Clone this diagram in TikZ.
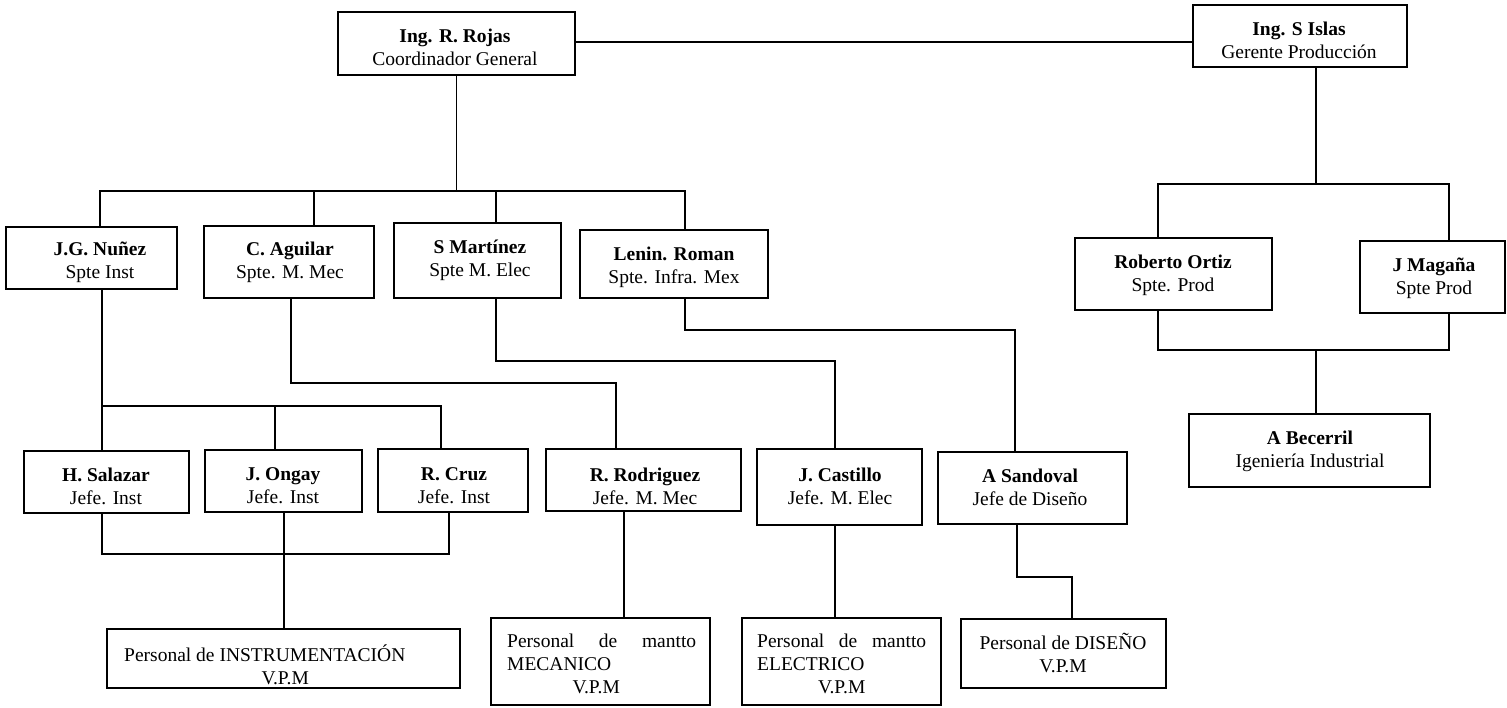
\documentclass[tikz,border=0pt]{standalone}
\usepackage{fontspec}
\setmainfont{Liberation Serif}
\usetikzlibrary{calc}
\tikzset{
  obx/.style={draw, rectangle, line width=1.8pt, inner sep=0pt, outer sep=0pt},
  otxt/.style={inner sep=0pt, align=center, font=\fontsize{19.5}{23}\selectfont},
  con/.style={line width=1.4pt},
}
\newcommand\obox[5]{%
  \node[obx, minimum width={(#4-#2)*1pt}, minimum height={(#5-#3)*1pt}] (#1) at ({(#2+#4)/2},{(#3+#5)/2}) {};}
\begin{document}
\begin{tikzpicture}[x=1pt, y=-1pt]
\useasboundingbox (0,0) rectangle (1507,707);
% boxes
\obox{rojas}{338}{12}{575}{75}
\obox{islas}{1193}{5}{1407}{67}
\obox{nunez}{6}{227}{177}{289}
\obox{aguilar}{204}{226}{374}{298}
\obox{martinez}{394}{223}{561}{298}
\obox{lenin}{580}{230}{768}{298}
\obox{ortiz}{1075}{238}{1272}{310}
\obox{magana}{1360}{241}{1505}{313}
\obox{salazar}{24}{451}{189}{513}
\obox{ongay}{205}{450}{362}{512}
\obox{cruz}{378}{449}{528}{512}
\obox{rodriguez}{546}{449}{741}{511}
\obox{castillo}{757}{449}{922}{525}
\obox{sandoval}{938}{452}{1127}{524}
\obox{becerril}{1189}{414}{1430}{487}
\obox{instr}{107}{629}{460}{688}
\obox{mecanico}{491}{618}{710}{705}
\obox{electrico}{742}{618}{941}{705}
\obox{diseno}{961}{619}{1166}{688}
% texts
\node[otxt] (rojas-t) at (455,47) {\bfseries Ing. R. Rojas\\Coordinador General};
\node[otxt] (islas-t) at (1299,40) {\bfseries Ing. S Islas\\Gerente Producción};
\node[otxt] (nunez-t) at (100,262) {\bfseries J.G. Nuñez\\Spte Inst};
\node[otxt] (aguilar-t) at (290,262) {\bfseries C. Aguilar\\Spte. M. Mec};
\node[otxt] (martinez-t) at (480,260) {\bfseries S Martínez\\Spte M. Elec};
\node[otxt] (lenin-t) at (674,267) {\bfseries Lenin. Roman\\Spte. Infra. Mex};
\node[otxt] (ortiz-t) at (1173,275) {\bfseries Roberto Ortiz\\Spte. Prod};
\node[otxt] (magana-t) at (1434,278) {\bfseries J Magaña\\Spte Prod};
\node[otxt] (salazar-t) at (106,486) {\bfseries H. Salazar\\Jefe. Inst};
\node[otxt] (ongay-t) at (283,486) {\bfseries J. Ongay\\Jefe. Inst};
\node[otxt] (cruz-t) at (454,486) {\bfseries R. Cruz\\Jefe. Inst};
\node[otxt] (rodriguez-t) at (645,486) {\bfseries R. Rodriguez\\Jefe. M. Mec};
\node[otxt] (castillo-t) at (840,486) {\bfseries J. Castillo\\Jefe. M. Elec};
\node[otxt] (sandoval-t) at (1030,487) {\bfseries A Sandoval\\Jefe de Diseño};
\node[otxt] (becerril-t) at (1310,451) {\bfseries A Becerril\\Igeniería Industrial};
\node[otxt, align=left, anchor=north west] (instr-t) at (124,645)
  {Personal de INSTRUMENTACIÓN\\\makebox[287pt]{\hspace*{35pt}V.P.M}};
\node[otxt, align=left, anchor=north west] (mecanico-t) at (507,634)
  {\makebox[189pt][s]{Personal de mantto}\\MECANICO\\\makebox[189pt]{V.P.M\hspace*{11pt}}};
\node[otxt, align=left, anchor=north west] (electrico-t) at (757,634)
  {\makebox[169pt][s]{Personal de mantto}\\ELECTRICO\\\makebox[169pt]{V.P.M}};
\node[otxt] (diseno-t) at (1063,653) {Personal de DISEÑO\\V.P.M};
% connectors
\coordinate (rl) at (0,42);
\draw[con] (rojas.east |- rl) -- (islas.west |- rl);
\coordinate (b1) at (100,191);
\coordinate (b2) at (314,191);
\coordinate (b3) at (496,191);
\coordinate (b4) at (685,191);
\draw[con] (rojas.south) -- (rojas.south |- b1);
\draw[con] (b1 |- nunez.north) -- (b1) -- (b4) -- (b4 |- lenin.north);
\draw[con] (b2) -- (b2 |- aguilar.north);
\draw[con] (b3) -- (b3 |- martinez.north);
% instrumentation group
\coordinate (i1) at (102,406);
\coordinate (i2) at (275,406);
\coordinate (i3) at (441,406);
\draw[con] (i1 |- nunez.south) -- (i1 |- salazar.north);
\draw[con] (i1) -- (i3) -- (i3 |- cruz.north);
\draw[con] (i2) -- (i2 |- ongay.north);
\coordinate (k1) at (102,554);
\coordinate (k2) at (449,554);
\coordinate (k3) at (284,554);
\draw[con] (k1 |- salazar.south) -- (k1) -- (k2) -- (k2 |- cruz.south);
\draw[con] (k3 |- ongay.south) -- (k3 |- instr.north);
% mechanical
\coordinate (a1) at (291,383);
\coordinate (a2) at (616,383);
\draw[con] (a1 |- aguilar.south) -- (a1) -- (a2) -- (a2 |- rodriguez.north);
\coordinate (a3) at (624,600);
\draw[con] (a3 |- rodriguez.south) -- (a3 |- mecanico.north);
% electrical
\coordinate (m1) at (496,361);
\coordinate (m2) at (835,361);
\draw[con] (m1 |- martinez.south) -- (m1) -- (m2) -- (m2 |- castillo.north);
\draw[con] (m2 |- castillo.south) -- (m2 |- electrico.north);
% design
\coordinate (l1) at (685,330);
\coordinate (l2) at (1015,330);
\draw[con] (l1 |- lenin.south) -- (l1) -- (l2) -- (l2 |- sandoval.north);
\coordinate (s1) at (1017,577);
\coordinate (s2) at (1072,577);
\draw[con] (s1 |- sandoval.south) -- (s1) -- (s2) -- (s2 |- diseno.north);
% production
\coordinate (g1) at (1316,184);
\coordinate (g2) at (1158,184);
\coordinate (g3) at (1449,184);
\draw[con] (g1 |- islas.south) -- (g1);
\draw[con] (g2 |- ortiz.north) -- (g2) -- (g3) -- (g3 |- magana.north);
\coordinate (h1) at (1158,350);
\coordinate (h2) at (1449,350);
\coordinate (h3) at (1316,350);
\draw[con] (h1 |- ortiz.south) -- (h1) -- (h2) -- (h2 |- magana.south);
\draw[con] (h3) -- (h3 |- becerril.north);
\end{tikzpicture}
\end{document}
